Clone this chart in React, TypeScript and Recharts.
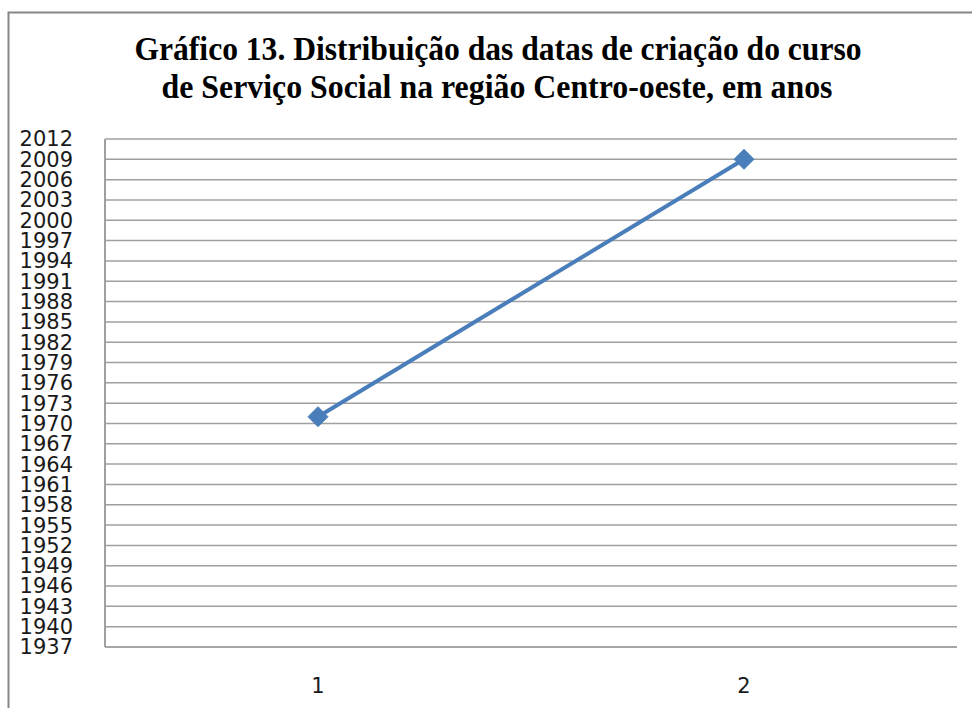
import { LineChart, Line, XAxis, YAxis, CartesianGrid } from 'recharts'

const categories = ['1', '2']
const years = [1971, 2009]
const yTicks = [
  1937, 1940, 1943, 1946, 1949, 1952, 1955, 1958, 1961, 1964, 1967, 1970, 1973,
  1976, 1979, 1982, 1985, 1988, 1991, 1994, 1997, 2000, 2003, 2006, 2009, 2012,
]
const titleLines = [
  'Gráfico 13. Distribuição das datas de criação do curso',
  'de Serviço Social na região Centro-oeste, em anos',
]

const data = categories.map((c, i) => ({ name: c, year: years[i] }))

const LINE_BLUE = '#4a7ebb'
const GRID = '#a0a0a0'
const TICK_FONT = { fill: '#1a1a1a', fontSize: 21, fontFamily: 'DejaVu Sans' }

const Diamond = (props: any) => {
  const { cx, cy } = props
  if (cx == null || cy == null) return null
  const r = 10
  return (
    <path
      d={`M${cx},${cy - r} L${cx + r},${cy} L${cx},${cy + r} L${cx - r},${cy} Z`}
      fill={LINE_BLUE}
      stroke={LINE_BLUE}
      strokeWidth={1}
    />
  )
}

export default function App() {
  return (
    <div style={{ position: 'absolute', left: 0, top: 0, width: 972, height: 708, overflow: 'hidden', background: '#fff' }}>
      <svg width={972} height={708} style={{ position: 'absolute', left: 0, top: 0 }}>
        <rect x={8.5} y={12.5} width={1000} height={800} fill="#fff" stroke="#868686" strokeWidth={2} />
        <text x={498} y={60} textAnchor="middle" fontFamily="Liberation Serif" fontWeight="bold" fontSize={33}
          textLength={727} lengthAdjust="spacingAndGlyphs" fill="#000">
          {titleLines[0]}
        </text>
        <text x={497} y={98} textAnchor="middle" fontFamily="Liberation Serif" fontWeight="bold" fontSize={33}
          textLength={671} lengthAdjust="spacingAndGlyphs" fill="#000">
          {titleLines[1]}
        </text>
      </svg>
      <div style={{ position: 'absolute', left: 0, top: 0 }}>
        <LineChart width={972} height={708} data={data} margin={{ top: 139, right: 15, bottom: 31, left: 0 }}>
          <CartesianGrid vertical={false} stroke={GRID} strokeWidth={1.5} />
          <XAxis
            dataKey="name"
            height={30}
            padding={{ left: 213, right: 213 }}
            tick={TICK_FONT}
            tickLine={false}
            axisLine={{ stroke: GRID, strokeWidth: 1.5 }}
            tickMargin={25}
          />
          <YAxis
            domain={[1937, 2012]}
            ticks={yTicks}
            interval={0}
            width={105}
            tick={TICK_FONT}
            tickLine={false}
            axisLine={{ stroke: GRID, strokeWidth: 2 }}
            tickMargin={26}
          />
          <Line
            dataKey="year"
            stroke={LINE_BLUE}
            strokeWidth={4}
            dot={<Diamond />}
            activeDot={false}
            isAnimationActive={false}
          />
        </LineChart>
      </div>
    </div>
  )
}
